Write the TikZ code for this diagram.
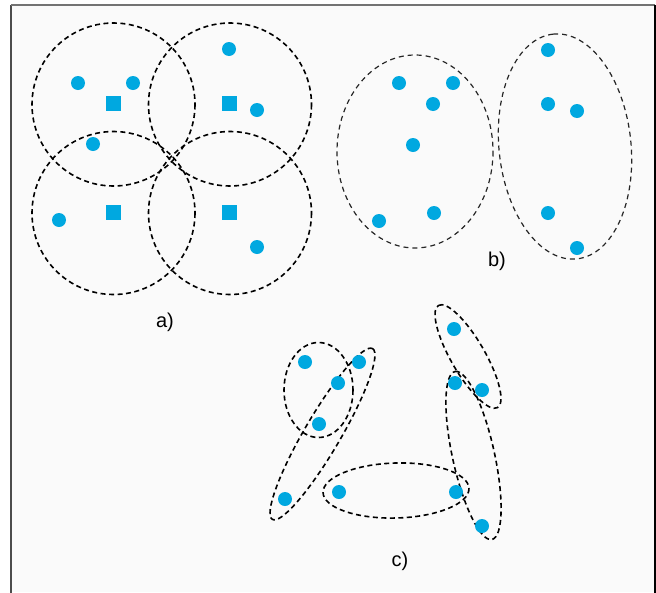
\documentclass[tikz,border=0pt]{standalone}
\usepackage{fontspec}
\setmainfont{Liberation Sans}
\begin{document}
\begin{tikzpicture}[x=1pt,y=-1pt,
  dot/.style={circle,fill=dotblue,inner sep=0pt,minimum size=14pt},
  sq/.style={rectangle,fill=dotblue,inner sep=0pt,minimum size=15pt},
  clus/.style={draw=black,dash pattern=on 5pt off 3.5pt,line width=1.6pt},
  clusthin/.style={draw=black!85,dash pattern=on 5pt off 4pt,line width=1.2pt},
  lab/.style={font=\fontsize{20}{24}\selectfont,inner sep=0pt}]
\definecolor{dotblue}{RGB}{0,168,224}
\definecolor{bgray}{RGB}{250,250,250}
\useasboundingbox (0,0) rectangle (656,592);
\fill[white] (0,0) rectangle (656,592);
\fill[bgray] (11,5) rectangle (655,592);
\draw[black!70,line width=1.5pt] (11,593) -- (11,5);
\draw[black!55,line width=1.2pt] (11,5) -- (655,5);
\draw[black,line width=1.2pt] (655,5) -- (655,593);

% ---- a) ----
\draw[clus] (113.5,104.5) circle [radius=81.5];
\draw[clus] (230,104.5) circle [radius=81.5];
\draw[clus] (113.5,213) circle [radius=81.5];
\draw[clus] (230,213) circle [radius=81.5];
\node[sq] (s1) at (113,103) {};
\node[sq] (s2) at (229,103) {};
\node[sq] (s3) at (113,212) {};
\node[sq] (s4) at (229,212) {};
\node[dot] (a1) at (78,83) {};
\node[dot] (a2) at (133,83) {};
\node[dot] (a3) at (229,49) {};
\node[dot] (a4) at (257,110) {};
\node[dot] (a5) at (93,144) {};
\node[dot] (a6) at (59,220) {};
\node[dot] (a7) at (257,247) {};
\node[lab] (la) at (165,322) {a)};

% ---- b) ----
\draw[clusthin] (415,151.5) ellipse [x radius=78, y radius=96.5];
\draw[clusthin,rotate around={96:(565,146.5)}] (565,146.5) ellipse [x radius=113, y radius=66];
\node[dot] (b1) at (399,83) {};
\node[dot] (b2) at (453,83) {};
\node[dot] (b3) at (433,104) {};
\node[dot] (b4) at (413,145) {};
\node[dot] (b5) at (379,221) {};
\node[dot] (b6) at (434,213) {};
\node[dot] (b7) at (548,50) {};
\node[dot] (b8) at (548,104) {};
\node[dot] (b9) at (577,111) {};
\node[dot] (b10) at (548,213) {};
\node[dot] (b11) at (577,248) {};
\node[lab] (lb) at (497,261) {b)};

% ---- c) ----
\draw[clus] (318.5,390) ellipse [x radius=34.5, y radius=47.5];
\draw[clus,rotate around={59.6:(322.5,434)}] (322.5,434) ellipse [x radius=99, y radius=18];
\draw[clus,rotate around={1.6:(396,490.5)}] (396,490.5) ellipse [x radius=73, y radius=27.5];
\draw[clus,rotate around={120:(468,356.5)}] (468,356.5) ellipse [x radius=59, y radius=17];
\draw[clus,rotate around={102.4:(473.5,455.5)}] (473.5,455.5) ellipse [x radius=86, y radius=21];
\node[dot] (c1) at (305,362) {};
\node[dot] (c2) at (359,362) {};
\node[dot] (c3) at (338,383) {};
\node[dot] (c4) at (319,424) {};
\node[dot] (c5) at (285,499) {};
\node[dot] (c6) at (339,492) {};
\node[dot] (c7) at (454,329) {};
\node[dot] (c8) at (455,383) {};
\node[dot] (c9) at (482,390) {};
\node[dot] (c10) at (456,492) {};
\node[dot] (c11) at (482,526) {};
\node[lab] (lc) at (400,561) {c)};
\end{tikzpicture}
\end{document}
